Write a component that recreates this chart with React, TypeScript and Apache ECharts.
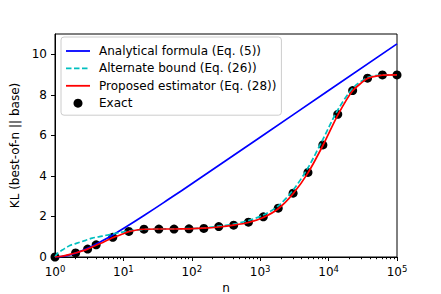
import React, { useEffect, useRef } from "react";
import * as echarts from "echarts";

// Exact (dots)
const exactN = [1, 2, 3, 4, 7, 12, 20, 33, 55, 91, 150, 248, 409, 673, 1111, 1833, 3026, 4995, 8246, 13612, 22471, 37095, 61235, 100000];
const exactKL = [0, 0.2, 0.39, 0.6, 0.97, 1.26, 1.37, 1.38, 1.38, 1.39, 1.41, 1.5, 1.57, 1.72, 1.98, 2.41, 3.15, 4.17, 5.53, 7.04, 8.21, 8.82, 8.98, 8.98];

// Analytical formula (blue)
const analyticN = [1, 1.5, 2, 3, 4, 5, 7, 10, 20, 50, 100, 1000, 10000, 100000];
const analyticKL = [0, 0.072, 0.193, 0.432, 0.636, 0.809, 1.089, 1.403, 2.046, 2.932, 3.615, 5.909, 8.21, 10.513];

// Alternate bound (cyan dashed)
const altN = [1, 1.1, 1.3, 1.65, 2, 2.8, 3.5, 4.9, 6.5, 8.6, 13, 20, 33, 55, 91, 150, 248, 409, 673, 1111, 1833, 3026, 4995, 8246, 13612, 22471, 37095, 61235, 100000];
const altKL = [0, 0.2, 0.36, 0.57, 0.66, 0.82, 0.93, 1.03, 1.12, 1.2, 1.3, 1.36, 1.38, 1.39, 1.4, 1.43, 1.52, 1.62, 1.8, 2.07, 2.52, 3.3, 4.4, 5.8, 7.25, 8.32, 8.85, 8.98, 8.99];

// Proposed estimator (red)
const propN = [1, 1.3, 1.65, 2, 2.5, 3, 4, 5, 7, 10, 12, 15, 20, 33, 55, 91, 150, 248, 409, 673, 1111, 1833, 3026, 4995, 8246, 13612, 22471, 37095, 61235, 100000];
const propKL = [0, 0.05, 0.13, 0.2, 0.3, 0.39, 0.58, 0.72, 0.95, 1.15, 1.25, 1.32, 1.37, 1.38, 1.38, 1.39, 1.42, 1.48, 1.57, 1.7, 1.95, 2.38, 3.12, 4.15, 5.5, 7.0, 8.2, 8.8, 8.97, 8.98];

const xMajorTicks = [1, 10, 100, 1000, 10000, 100000];
const xMinorTicks = [
  2, 3, 4, 5, 6, 7, 8, 9,
  20, 30, 40, 50, 60, 70, 80, 90,
  200, 300, 400, 500, 600, 700, 800, 900,
  2000, 3000, 4000, 5000, 6000, 7000, 8000, 9000,
  20000, 30000, 40000, 50000, 60000, 70000, 80000, 90000,
];
const yTicks = [0, 2, 4, 6, 8, 10];

const NAME_ANALYTIC = "Analytical formula (Eq. (5))";
const NAME_ALT = "Alternate bound (Eq. (26))";
const NAME_PROP = "Proposed estimator (Eq. (28))";
const NAME_EXACT = "Exact";

const zip = (a: number[], b: number[]) => a.map((v, i) => [v, b[i]]);

const solidIcon = "path://M0,0 L24,0 L24,1.8 L0,1.8 Z";
const dashedIcon =
  "path://M0,0 L5.5,0 L5.5,1.8 L0,1.8 Z M8,0 L13.5,0 L13.5,1.8 L8,1.8 Z M16,0 L21.5,0 L21.5,1.8 L16,1.8 Z M24,0 L24,0 L24,1.8 L24,1.8 Z";

export default function App() {
  const ref = useRef<HTMLDivElement>(null);
  useEffect(() => {
    document.body.style.margin = "0";
    const chart = echarts.init(ref.current!, null, { renderer: "svg" });
    const font = "DejaVu Sans";
    const fs = 12;
    chart.setOption({
      animation: false,
      backgroundColor: "#fff",
      textStyle: { fontFamily: font },
      grid: {
        left: 55, top: 34, width: 342, height: 223,
        outerBoundsMode: "none", containLabel: false,
        show: true, borderColor: "#000", borderWidth: 1, backgroundColor: "transparent",
      },
      legend: {
        orient: "vertical",
        left: 61,
        top: 37,
        padding: [7, 5, 5, 5],
        itemWidth: 24,
        itemHeight: 9,
        itemGap: 3.4,
        backgroundColor: "rgba(255,255,255,0.8)",
        borderColor: "#cccccc",
        borderWidth: 1,
        borderRadius: 3,
        data: [
          { name: NAME_ANALYTIC, icon: solidIcon },
          { name: NAME_ALT, icon: dashedIcon },
          { name: NAME_PROP, icon: solidIcon },
          { name: NAME_EXACT, icon: "circle" },
        ],
        textStyle: { fontFamily: font, fontSize: fs, color: "#000", lineHeight: 14, padding: [0, 0, 0, 4] },
      },
      xAxis: [
        {
          type: "log",
          logBase: 10,
          min: 1,
          max: 100000,
          name: "n",
          nameLocation: "middle",
          nameGap: 25,
          nameTextStyle: { fontFamily: font, fontSize: fs, color: "#000" },
          axisLine: { show: true, lineStyle: { color: "#000", width: 1 } },
          axisTick: { show: true, length: 4, lineStyle: { color: "#000" }, customValues: xMajorTicks },
          axisLabel: {
            customValues: xMajorTicks,
            margin: 7,
            color: "#000",
            fontFamily: font,
            fontSize: fs,
            formatter: (v: number) => `10{s|${Math.round(Math.log10(v))}}`,
            rich: { s: { fontSize: 8.5, fontFamily: font, color: "#000", verticalAlign: "bottom", padding: [0, 0, 6, 0] } },
          },
          splitLine: { show: false },
        },
        {
          type: "log",
          logBase: 10,
          min: 1,
          max: 100000,
          position: "bottom",
          axisLine: { show: false },
          axisTick: { show: true, length: 2.2, lineStyle: { color: "#000" }, customValues: xMinorTicks },
          axisLabel: { show: false },
          splitLine: { show: false },
        },
      ],
      yAxis: {
        type: "value",
        min: 0,
        max: 11,
        name: "KL (best-of-n || base)",
        nameLocation: "middle",
        nameGap: 23,
        nameTextStyle: { fontFamily: font, fontSize: fs, color: "#000" },
        axisLine: { show: true, lineStyle: { color: "#000", width: 1 } },
        axisTick: { show: true, length: 4, lineStyle: { color: "#000" }, customValues: yTicks },
        axisLabel: { customValues: yTicks, margin: 8, color: "#000", fontFamily: font, fontSize: fs },
        splitLine: { show: false },
      },
      series: [
        {
          name: NAME_EXACT,
          type: "scatter",
          data: zip(exactN, exactKL),
          symbol: "circle",
          symbolSize: 9,
          itemStyle: { color: "#000", opacity: 1 },
          z: 1,
        },
        {
          name: NAME_ANALYTIC,
          type: "line",
          data: zip(analyticN, analyticKL),
          showSymbol: false,
          symbol: "none",
          smooth: true,
          lineStyle: { color: "#0000ff", width: 1.7 },
          itemStyle: { color: "#0000ff" },
          z: 3,
        },
        {
          name: NAME_ALT,
          type: "line",
          data: zip(altN, altKL),
          showSymbol: false,
          symbol: "none",
          smooth: 0.3,
          lineStyle: { color: "#00bfbf", width: 1.7, type: [5.5, 2.5] },
          itemStyle: { color: "#00bfbf" },
          z: 3,
        },
        {
          name: NAME_PROP,
          type: "line",
          data: zip(propN, propKL),
          showSymbol: false,
          symbol: "none",
          smooth: 0.2,
          lineStyle: { color: "#ff0000", width: 1.7 },
          itemStyle: { color: "#ff0000" },
          z: 4,
        },
      ],
    });
    return () => chart.dispose();
  }, []);
  return <div ref={ref} style={{ width: 441, height: 294 }} />;
}
